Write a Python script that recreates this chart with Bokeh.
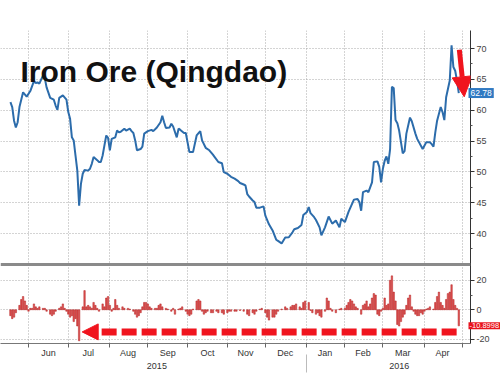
import numpy as np
from bokeh.plotting import figure
from bokeh.models import Range1d, LinearAxis, FixedTicker, Arrow, NormalHead, Label, Span
from bokeh.embed import file_html
from bokeh.resources import INLINE

# x = trading-day number counted from Mon 1 Jun 2015 (weekdays only)
price_day = [-10, -9, -8, -7, -6, -5, -3, -1, 1, 3, 4, 5, 6, 8, 9, 10, 12, 14, 15, 16, 17, 19, 21, 22, 23, 24, 25, 26, 27, 28,
             29, 30, 31, 33, 34, 35, 36, 38, 39, 40, 41, 42, 43, 44, 45, 46, 48, 49, 50, 51, 53, 54, 56, 57, 58, 59, 60, 62,
             63, 64, 66, 68, 69, 71, 73, 74, 75, 76, 78, 79, 80, 82, 83, 84, 86, 87, 89, 91, 93, 95, 96, 98, 100, 102, 103,
             105, 107, 108, 110, 112, 114, 116, 117, 119, 120, 121, 122, 124, 125, 126, 128, 130, 131, 133, 135, 137, 138,
             139, 140, 142, 144, 146, 147, 149, 151, 152, 154, 155, 156, 158, 159, 161, 162, 164, 166, 168, 170, 172, 173,
             175, 177, 180, 182, 183, 184, 185, 187, 188, 190, 191, 193, 194, 195, 196, 197, 198, 199, 200, 201, 202, 203,
             204, 205, 207, 208, 209, 211, 212, 214, 215, 218, 220, 222, 223, 224, 225, 226, 228, 229, 230, 231, 233, 234,
             235, 236, 237, 238]
price = [61.3, 60.5, 58.3, 57.2, 58.05, 60.5, 62.9, 62.2, 63.1, 64.7, 64.4, 64.5, 64.3, 65.6, 65.2, 63.7, 62.0, 61.7, 60.75,
         60.05, 62.0, 62.4, 61.7, 59.7, 58.6, 55.6, 55.1, 52.65, 50.2, 44.5,
         48.05, 49.7, 50.3, 50.2, 50.5, 51.3, 52.4, 51.9, 51.6, 51.6, 52.65, 54.3, 55.9, 55.5, 53.5, 55.35, 55.6, 56.7, 56.4,
         56.5, 57.0, 56.7, 57.0, 56.6, 56.3, 55.1, 53.5, 53.7,
         54.1, 56.2, 56.6, 56.8, 56.6, 57.2, 58.05, 59.1, 58.05, 57.1, 57.2, 57.8, 57.35, 55.6, 57.0, 56.8, 56.3, 56.3, 53.2,
         53.2, 55.9, 56.6, 55.1, 53.9, 53.5, 52.8, 52.4,
         51.6, 51.4, 49.95, 49.7, 49.2, 48.9, 48.5, 48.2, 47.95, 47.8, 46.4, 46.0, 45.35, 45.1, 44.2, 44.2, 44.4, 42.9, 41.5,
         40.5, 39.0, 38.8,
         38.6, 38.4, 39.35, 39.4, 40.2, 40.7, 40.9, 41.4, 43.0, 43.5, 44.3, 43.3, 42.65, 42.2, 41.0, 39.7, 41.0, 42.75, 41.6,
         42.1, 41.0, 42.4,
         41.85, 43.5, 45.5, 45.6, 45.1, 43.7, 46.7, 46.97, 46.7, 48.3, 51.6, 51.7, 50.8, 48.3, 50.5, 51.8, 52.5, 51.3, 53.7,
         63.8, 63.6, 58.4,
         57.9, 56.7, 53.0, 53.35, 56.2, 58.8, 58.2, 56.2, 55.35, 53.7, 54.8, 54.8, 54.5, 54.1, 56.4, 58.3, 60.5, 59.7, 58.4,
         62.1, 64.8, 70.5,
         67.0, 66.4, 64.8, 62.78]

chg_day = [-10, -9, -8, -7, -5, -4, -3, -2, -1, 0, 1, 2, 3, 4, 5, 6, 8, 9, 10, 12, 13, 14, 15, 17, 18, 19, 20, 21, 22, 23,
           24, 25, 26, 27, 28, 30, 31, 32, 33, 34, 35, 36, 37, 38, 39, 41, 42, 43, 44, 45, 46, 47, 48, 49, 50, 52, 53, 55,
           56, 58, 59, 60, 61, 62, 63, 64, 65, 66, 67, 68, 70, 71, 72, 73, 74, 76, 77, 79, 80, 81, 83, 84, 85, 87, 88, 89,
           90, 91, 93, 94, 95, 96, 97, 98, 99, 101, 102, 104, 105, 107, 108, 110, 111, 112, 114, 115, 117, 119, 121, 122,
           124, 125, 126, 128, 129, 131, 132, 133, 135, 136, 137, 138, 140, 142, 143, 145, 146, 147, 148, 150, 151, 152,
           153, 155, 156, 157, 159, 160, 161, 162, 164, 165, 166, 167, 168, 170, 172, 173, 175, 176, 177, 178, 179, 180,
           181, 182, 184, 185, 186, 187, 188, 189, 190, 191, 192, 193, 194, 195, 196, 197, 198, 199, 200, 201, 202, 203,
           204, 205, 206, 207, 208, 209, 210, 211, 212, 213, 214, 215, 216, 217, 218, 219, 220, 221, 222, 224, 225, 226,
           227, 228, 229, 230, 231, 232, 233, 234, 235, 236, 237, 238]
chg = [-4, -6, -5, -2, 3, 7, 9, 6, 3, -1, 1, 1, 4, 2, 1, 2, 1, 1, -1, -3, -4, -3, -1, 1, 2, 4, 1, -1, -3, -5,
       -4, -8, -6, -11, -21, 2, 13, 2, 3, 2, 1, 5, 3, 1, -1, 4, 2, 8, 9, 3, -1, 1, 7, 3, 1, 2, 1, 1,
       0.5, -1, -3, -5, -4, -2, 2, 5, 5, 4, 2, 1, 1, 1, 3, 4, 2, 1, 0.5, -1, 1, -3, 0.5, 1, 2, -1, -3, -4,
       -3, 0.5, 6, 7, 6, -1, -3, -2, -1, -2, -2, -1, -2, -2, -3, -2, -1, -1, -1, -1, -0.5, -1, -3, -4,
       -2, -3, -1, 0.5, 1, -2, -5, -7, -5, -5, -3, -1, 0.5, 2, 1, 2, 3, 3, 4, 2, 1, 5,
       6, 5, -0.5, -2, -3, -2, -4, -5, -1, 8, 6, 1, -1, -2, 0.5, 1, 1, 3, 5, 7, 6, 4,
       2, 1, -3, 3, 4, 6, 2, 4, 8, 11, 10, -3, -4, -1, 1, 8, 3, 4, 20, 23, 12, 6,
       -10, -11, -8, -5, -3, 3, 8, 10, 2, -1, -3, -4, -4, -2, -3, -1, 0.5, 1, 2, 0.5, 5, 9,
       12, 5, 3, 1, 7, 11, 12, 17, 7, 3, 1, -10.8998]

month_starts = ["2015-06-01", "2015-07-01", "2015-08-01", "2015-09-01", "2015-10-01", "2015-11-01",
                "2015-12-01", "2016-01-01", "2016-02-01", "2016-03-01", "2016-04-01", "2016-05-01"]
month_names = ["Jun", "Jul", "Aug", "Sep", "Oct", "Nov", "Dec", "Jan", "Feb", "Mar", "Apr"]
year_names = ["2015", "2016"]
year_dates = ["2015-09-08", "2016-03-14"]
price_ticks = [40, 45, 50, 55, 60, 65, 70]
chg_ticks = [-20, 0, 20]
title_text = "Iron Ore (Qingdao)"

ORIGIN = "2015-06-01"
bounds = [int(b) for b in np.busday_count(ORIGIN, month_starts)]
mids = [(a + b) // 2 for a, b in zip(bounds[:-1], bounds[1:])]
year_pos = [int(b) for b in np.busday_count(ORIGIN, year_dates)]

FONT = "Liberation Sans"
GRID = "#a8a8a8"
RED = "#f0141e"
BLUE_LINE = "#2c6cab"

# one frame holding both panels: price scale on top, change scale at the bottom
xr = Range1d(-15.49, 244.47)
price_range = Range1d(22.17, 72.92)
chg_range = Range1d(-22.85, 189.35)
PANEL_SPLIT = 34.98  # price value at the panel separator


def to_price_scale(v):
    # express a value of the change scale on the price scale (for the shared right axis)
    return price_range.start + (v - chg_range.start) * (price_range.end - price_range.start) / (chg_range.end - chg_range.start)


chg_tick_pos = [to_price_scale(v) for v in chg_ticks]
chg_minor_pos = [to_price_scale(v) for v in (-10, 10)]
axis_ticks = chg_tick_pos + price_ticks
axis_labels = {pos: str(v) for pos, v in zip(chg_tick_pos, chg_ticks)}
axis_labels.update({t: str(t) for t in price_ticks})

p = figure(width=500, height=375, x_range=xr, y_range=price_range,
           output_backend="svg", toolbar_location=None, y_axis_location="right",
           min_border_left=0, min_border_right=30, min_border_top=30, min_border_bottom=32)
p.extra_y_ranges = {"chg": chg_range}
p.outline_line_color = None

# grid
p.xgrid.ticker = FixedTicker(ticks=bounds)
p.ygrid.ticker = FixedTicker(ticks=axis_ticks)
for g in (p.xgrid, p.ygrid):
    g.grid_line_color = GRID
    g.grid_line_dash = "1 2"
    g.grid_line_width = 1

# right axis
ax = p.yaxis[0]
ax.ticker = FixedTicker(ticks=axis_ticks,
                        minor_ticks=chg_minor_pos + [t + 2.5 for t in price_ticks[:-1]] + [37.5])
ax.major_label_overrides = axis_labels
ax.axis_line_color = "#333333"
ax.major_tick_in = 0
ax.major_tick_out = 4
ax.major_tick_line_color = "#333333"
ax.minor_tick_in = 0
ax.minor_tick_out = 2
ax.minor_tick_line_color = "#555555"
ax.major_label_text_font = FONT
ax.major_label_text_font_size = "9px"
ax.major_label_text_color = "#444444"
ax.major_label_standoff = 2

# bottom axes: months, then years
xa = p.xaxis[0]
xa.ticker = FixedTicker(ticks=mids, minor_ticks=bounds)
xa.major_label_overrides = {m: n for m, n in zip(mids, month_names)}
xa.major_tick_line_color = None
xa.major_tick_out = 0
xa.major_tick_in = 0
xa.minor_tick_in = 0
xa.minor_tick_out = 4
xa.minor_tick_line_color = "#666666"
xa.axis_line_color = "#777777"
xa.major_label_text_font = FONT
xa.major_label_text_font_size = "9px"
xa.major_label_text_color = "#333333"
xa.major_label_standoff = 0

ya = LinearAxis(ticker=FixedTicker(ticks=year_pos, minor_ticks=[bounds[7]]),
                major_label_overrides={q: n for q, n in zip(year_pos, year_names)})
ya.axis_line_color = None
ya.major_tick_line_color = None
ya.major_tick_out = 0
ya.major_tick_in = 0
ya.minor_tick_in = 6
ya.minor_tick_out = 12
ya.minor_tick_line_color = "#bbbbbb"
ya.major_label_text_font = FONT
ya.major_label_text_font_size = "9px"
ya.major_label_text_color = "#333333"
ya.major_label_standoff = -10
p.add_layout(ya, "below")

# data
p.line(price_day, price, line_color=BLUE_LINE, line_width=2)
p.vbar(x=chg_day, top=chg, bottom=0, width=0.8, fill_color="#e25454", line_color="#b22222",
       line_width=0.5, y_range_name="chg")

# panel separator
p.add_layout(Span(location=PANEL_SPLIT, dimension="width", line_color="#8a8a8a", line_width=3))

# title
p.add_layout(Label(x=xr.start + 11.06, y=66.27, text=title_text, text_font=FONT, text_font_size="30px",
                   text_font_style="bold", text_color="#111111", text_baseline="alphabetic"))

# arrows
p.add_layout(Arrow(end=NormalHead(size=20, fill_color=RED, line_color=RED),
                   x_start=price_day[-1] + 0.3, y_start=max(price) - 0.7,
                   x_end=price_day[-1] + 3.0, y_end=price[-1] - 0.6,
                   line_color=RED, line_width=5))
crash_day = chg_day[int(np.argmin(chg))]
p.add_layout(Arrow(end=NormalHead(size=16, fill_color=RED, line_color=RED),
                   x_start=chg_day[-1] - 1.2, y_start=-15, x_end=crash_day + 1.7, y_end=-15,
                   line_color=RED, line_width=7, line_dash="15 5", line_cap="butt", y_range_name="chg"))

# last-value tags beside the right axis (side panel so they are not clipped to the frame)
p.add_layout(Label(x=xr.end, y=price[-1], x_offset=-2, text=f"{price[-1]:.2f}", text_font=FONT,
                   text_font_size="8.5px", text_color="white", text_baseline="middle",
                   background_fill_color="#2f79c2", background_fill_alpha=1.0, padding=2), "above")
p.add_layout(Label(x=xr.end, y=chg[-1], x_offset=-2, text=f"{chg[-1]:.4f}", text_font=FONT,
                   text_font_size="7.5px", text_color="white", text_baseline="middle",
                   background_fill_color="#e8141c", background_fill_alpha=1.0, padding=1,
                   y_range_name="chg"), "above")

open("out.html", "w").write(file_html(p, INLINE))
